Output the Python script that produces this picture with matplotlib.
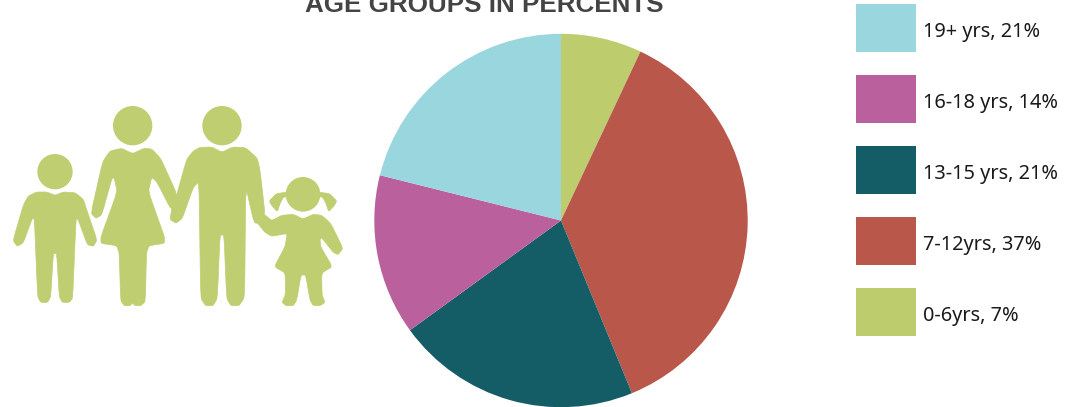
import matplotlib
matplotlib.use("Agg")
import matplotlib.pyplot as plt
from matplotlib.patches import Circle, Polygon, Rectangle

W, H = 1081, 407

# Data, in pie order (clockwise from 12 o'clock); slice sizes
pie_labels = ["0-6yrs, 7%", "7-12yrs, 37%", "13-15 yrs, 21%", "16-18 yrs, 14%", "19+ yrs, 21%"]
pie_values = [7.0, 36.8, 21.2, 13.9, 21.1]
pie_colors = ["#BDCC6D", "#B9574B", "#145D66", "#BA609D", "#99D6DE"]

# Legend reads top to bottom in reverse pie order
legend_labels = pie_labels[::-1]
legend_colors = pie_colors[::-1]
title_text = "AGE GROUPS IN PERCENTS"
icon_color = "#BFCE70"

fig = plt.figure(figsize=(W / 100, H / 100), dpi=100, facecolor="white")

# Pixel-coordinate overlay for decoration
bg = fig.add_axes([0, 0, 1, 1])
bg.set_xlim(0, W)
bg.set_ylim(H, 0)
bg.axis("off")

# Pie
cx, cy, r = 561, 220.5, 186.7
pie_ax = fig.add_axes([(cx - r) / W, 1 - (cy + r) / H, 2 * r / W, 2 * r / H])
pie_ax.pie(pie_values, colors=pie_colors, startangle=90, counterclock=False, radius=1,
           wedgeprops=dict(linewidth=0))
pie_ax.set_xlim(-1, 1)
pie_ax.set_ylim(-1, 1)

# Title
bg.text(484, 12.5, title_text, family="Liberation Sans", weight="bold", fontsize=18.75,
        color="#444444", ha="center", va="baseline", clip_on=False)

# Legend
for i, (lab, col) in enumerate(zip(legend_labels, legend_colors)):
    top = 4 + 71 * i
    bg.add_patch(Rectangle((856, top), 60, 48, facecolor=col, edgecolor="none"))
    bg.text(923, top + 33, lab, family="Noto Sans", fontsize=14.35, color="#1a1a1a",
            ha="left", va="baseline")

# Family icon (outline traced in zoomed-crop coordinates: 3x, y offset 90)
def pts(seq):
    return [(x / 3, y / 3 + 90) for x, y in seq]

def smooth(seq, rounds=2, cut=0.12):
    for _ in range(rounds):
        out = []
        for i, (x0, y0) in enumerate(seq):
            x1, y1 = seq[(i + 1) % len(seq)]
            out.append(((1 - cut) * x0 + cut * x1, (1 - cut) * y0 + cut * y1))
            out.append((cut * x0 + (1 - cut) * x1, cut * y0 + (1 - cut) * y1))
        seq = out
    return seq

heads = [(165, 245, 53), (398, 107, 59), (666, 107, 59), (909, 313, 52)]
shapes = [
    # boy
    [(140, 306), (165, 316), (190, 306), (225, 308), (250, 328), (262, 365), (291, 450), (280, 469),
     (262, 464), (235, 390), (228, 385), (218, 625), (208, 637), (187, 637), (178, 620), (170, 490),
     (160, 490), (152, 620), (143, 637), (122, 637), (113, 620), (103, 385), (97, 385), (70, 458),
     (52, 469), (39, 452), (70, 345), (85, 318), (110, 306)],
    # mother
    [(365, 175), (398, 191), (432, 175), (455, 177), (482, 205), (532, 315), (515, 362), (470, 275),
     (455, 262), (445, 305), (500, 459), (440, 468), (436, 635), (422, 647), (405, 647), (398, 639),
     (390, 647), (373, 647), (362, 632), (357, 468), (296, 459), (352, 305), (342, 262), (335, 268),
     (305, 375), (288, 385), (273, 370), (308, 215), (330, 183)],
    # father
    [(635, 171), (666, 187), (698, 171), (737, 173), (772, 205), (780, 240), (795, 372), (782, 402),
     (762, 398), (737, 288), (734, 622), (717, 647), (693, 647), (680, 625), (672, 435), (660, 435),
     (652, 625), (639, 647), (617, 647), (602, 625), (597, 275), (580, 292), (547, 385), (528, 400),
     (510, 388), (515, 358), (530, 315), (560, 208), (580, 183), (600, 172)],
    # girl
    [(880, 373), (909, 387), (940, 373), (965, 376), (992, 400), (1029, 475), (1014, 494), (1000, 487),
     (965, 443), (960, 448), (962, 470), (997, 530), (965, 549), (966, 615), (975, 637), (960, 647),
     (940, 647), (930, 630), (917, 555), (903, 555), (890, 630), (880, 647), (858, 647), (846, 637),
     (856, 615), (856, 549), (823, 530), (855, 470), (862, 430), (815, 439), (795, 427), (773, 400),
     (793, 373), (815, 392), (845, 376)],
    # pigtails
    [(808, 333), (829, 311), (858, 307), (862, 318), (849, 323), (840, 341), (832, 365), (814, 345)],
    [(1010, 333), (989, 311), (960, 307), (956, 318), (969, 323), (978, 341), (986, 365), (1004, 345)],
]
for s in shapes:
    bg.add_patch(Polygon(pts(smooth(s)), closed=True, facecolor=icon_color, edgecolor=icon_color,
                         linewidth=0.5, joinstyle="round"))
for hx, hy, hr in heads:
    bg.add_patch(Circle((hx / 3, hy / 3 + 90), hr / 3, facecolor=icon_color, edgecolor="none"))

fig.savefig("out.png", dpi=100)
